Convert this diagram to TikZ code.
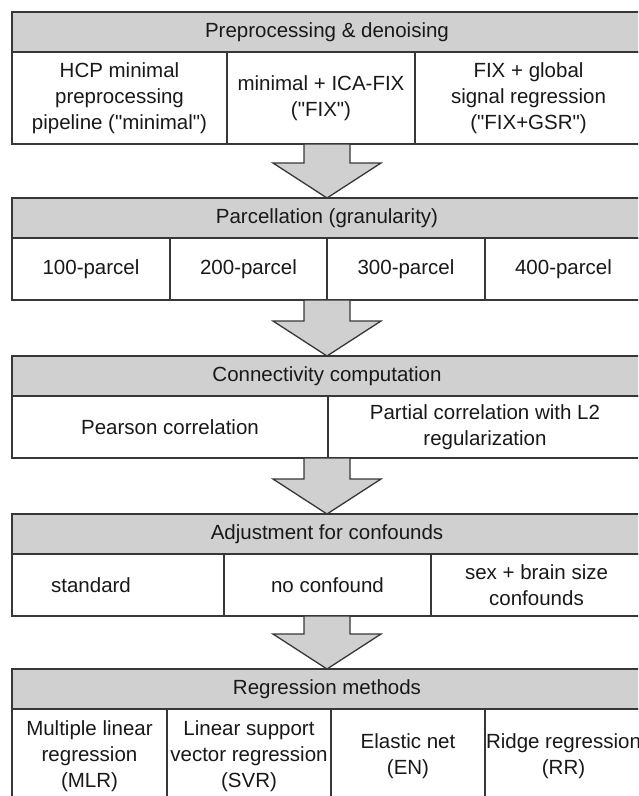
\documentclass[tikz,border=0pt]{standalone}
\usepackage{fontspec}
\setmainfont{Liberation Sans}[Ligatures=TeXOff]
\usetikzlibrary{calc}
\definecolor{hdrgray}{RGB}{208,208,208}
\definecolor{linegray}{RGB}{55,55,55}
\begin{document}
\begin{tikzpicture}[x=1pt,y=-1pt,
  base/.style={draw=linegray, line width=1.3pt, inner sep=0pt, outer sep=0pt,
    align=center, font=\fontsize{20.5}{26}\selectfont, text=black!90},
  header/.style={base, fill=hdrgray, minimum width=630pt, minimum height=40pt},
  cell/.style={base, fill=white},
  flowarrow/.style={draw=linegray, line width=1.3pt, fill=hdrgray, line join=miter}]
\useasboundingbox (0,0) rectangle (638,796);
\clip (0,0) rectangle (638,796);

% Block 1
\node[header] (h1) at (327,32) {Preprocessing \& denoising};
\node[cell, minimum width=215pt, minimum height=92pt] (c11) at (119.5,98) {HCP minimal\\preprocessing\\pipeline ("minimal")};
\node[cell, minimum width=188pt, minimum height=92pt] (c12) at (321,98) {minimal + ICA-FIX\\("FIX")};
\node[cell, minimum width=227pt, minimum height=92pt] (c13) at (528.5,98) {FIX + global\\signal regression\\("FIX+GSR")};
\coordinate (a1) at (327,144);

% Block 2
\node[header] (h2) at (327,218) {Parcellation (granularity)};
\node[cell, minimum width=158pt, minimum height=62pt] (c21) at (91,269) {100-parcel};
\node[cell, minimum width=157pt, minimum height=62pt] (c22) at (248.5,269) {200-parcel};
\node[cell, minimum width=158pt, minimum height=62pt] (c23) at (406,269) {300-parcel};
\node[cell, minimum width=157pt, minimum height=62pt] (c24) at (563.5,269) {400-parcel};
\coordinate (a2) at (327,300);

% Block 3
\node[header] (h3) at (327,376) {Connectivity computation};
\node[cell, minimum width=316pt, minimum height=62pt] (c31) at (170,427) {Pearson correlation};
\node[cell, minimum width=314pt, minimum height=62pt] (c32) at (485,427) {Partial correlation with L2\\regularization};
\coordinate (a3) at (327,458);

% Block 4
\node[header] (h4) at (327,534) {Adjustment for confounds};
\node[cell, minimum width=212pt, minimum height=62pt] (c41) at (118,585) {standard\hspace*{54pt}};
\node[cell, minimum width=207pt, minimum height=62pt] (c42) at (327.5,585) {no confound};
\node[cell, minimum width=211pt, minimum height=62pt] (c43) at (536.5,585) {sex + brain size\\confounds};
\coordinate (a4) at (327,616);

% Block 5
\node[header] (h5) at (327,689) {Regression methods};
\node[cell, minimum width=155pt, minimum height=94pt] (c51) at (89.5,756) {Multiple linear\\regression\\(MLR)};
\node[cell, minimum width=164pt, minimum height=94pt] (c52) at (249,756) {Linear support\\vector regression\\(SVR)};
\node[cell, minimum width=154pt, minimum height=94pt] (c53) at (408,756) {Elastic net\\(EN)};
\node[cell, minimum width=157pt, minimum height=94pt] (c54) at (563.5,756) {Ridge regression\\(RR)};

% Arrows
\foreach \s/\t in {a1/h2, a2/h3, a3/h4, a4/h5}{
  \draw[flowarrow] let \p1=(\s), \p2=(\t.north) in
    ({\x1-23pt},\y1) -- ({\x1+23pt},\y1) -- ({\x1+23pt},{\y2+35pt}) --
    ({\x1+54pt},{\y2+35pt}) -- (\x1,\y2) -- ({\x1-54pt},{\y2+35pt}) --
    ({\x1-23pt},{\y2+35pt}) -- cycle;
}
\end{tikzpicture}
\end{document}
